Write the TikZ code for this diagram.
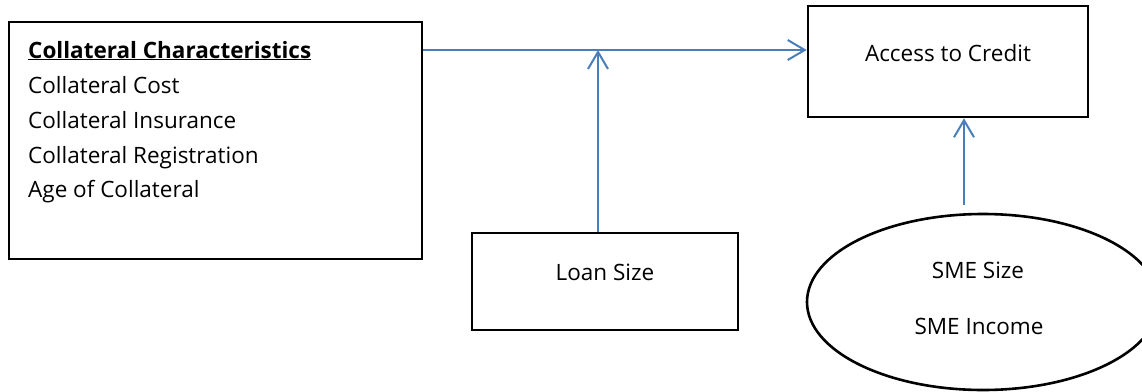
\documentclass[tikz,border=0pt]{standalone}
\usepackage{fontspec}
\setmainfont{Open Sans}
\usetikzlibrary{arrows.meta,shapes.geometric}
\definecolor{arrblue}{HTML}{4A7EBB}
\tikzset{
  box/.style={draw=black, line width=2.6pt, rectangle, inner sep=0pt},
  oval/.style={draw=black, line width=2.6pt, ellipse, inner sep=0pt},
  lbl/.style={inner sep=0pt, font=\fontsize{22.5}{27}\selectfont},
  arr/.style={draw=arrblue, line width=2pt, -{Straight Barb[length=17pt,width=20pt,line width=2pt]}}
}
\begin{document}
\begin{tikzpicture}[x=1pt,y=1pt]
\useasboundingbox (0,0) rectangle (1142,-391);
% boxes
\node[box, minimum width=413pt, minimum height=237pt] (coll) at (215.5,-140.5) {};
\node[box, minimum width=280pt, minimum height=111pt] (access) at (948,-61.5) {};
\node[box, minimum width=266pt, minimum height=97pt] (loan) at (605,-281.5) {};
\node[oval, minimum width=352pt, minimum height=176pt] (sme) at (983,-302) {};
% texts
\node[lbl, anchor=base west] (t1) at (28,-58) {\underline{\textbf{Collateral Characteristics}}};
\node[lbl, anchor=base west] (t2) at (28,-93) {Collateral Cost};
\node[lbl, anchor=base west] (t3) at (28,-128) {Collateral Insurance};
\node[lbl, anchor=base west] (t4) at (28,-163) {Collateral Registration};
\node[lbl, anchor=base west] (t5) at (28,-197) {Age of Collateral};
\node[lbl, anchor=base] (ta) at (948,-61) {Access to Credit};
\node[lbl, anchor=base] (tl) at (605,-280) {Loan Size};
\node[lbl, anchor=base] (ts1) at (978,-278) {SME Size};
\node[lbl, anchor=base] (ts2) at (979,-334) {SME Income};
% connectors
\coordinate (c1) at (coll.east |- 0,-50);
\coordinate (j) at (598,-50);
\coordinate (s) at (964,-205);
\draw[arr] (c1) -- (c1 -| access.west);
\draw[arr] (j |- loan.north) -- (j);
\draw[arr] (s) -- (s |- access.south);
\end{tikzpicture}
\end{document}
